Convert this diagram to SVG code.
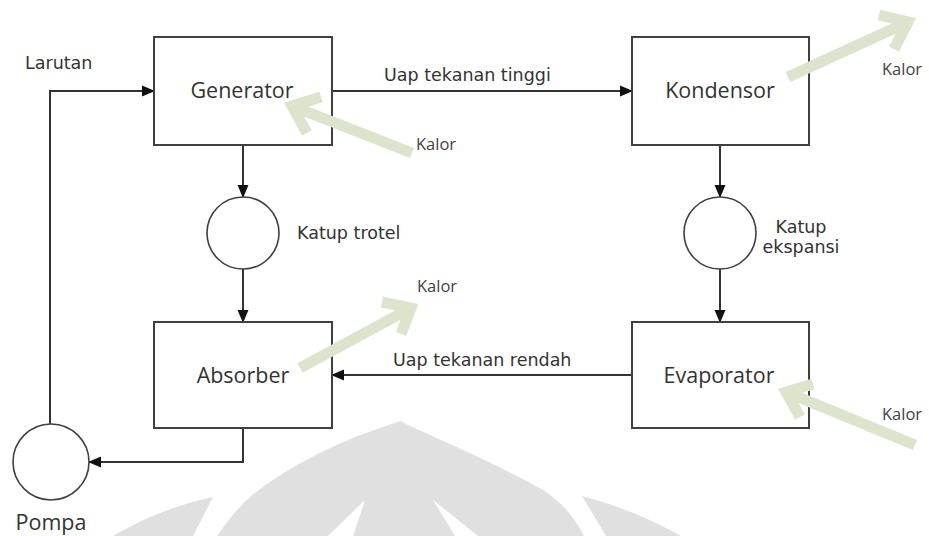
<svg xmlns="http://www.w3.org/2000/svg" width="929" height="536" viewBox="0 0 929 536">
<style>
.box{fill:#fff;stroke:#404040;stroke-width:2}
.valve{fill:#fff;stroke:#404040;stroke-width:1.6}
.lbl{font-family:"Open Sans","Noto Sans",sans-serif;font-size:21.5px;fill:#333;text-anchor:middle}
.sm{font-family:"DejaVu Sans","Liberation Sans",sans-serif;font-size:17.5px;fill:#333}
.kal{font-family:"Open Sans","Noto Sans",sans-serif;font-size:16.5px;fill:#444}
.con{fill:none;stroke:#333;stroke-width:2;marker-end:url(#ah)}
.heat{fill:none;stroke:#dde3cc;stroke-width:11;stroke-linejoin:miter;stroke-linecap:butt}
.wm{fill:#e0e0e0;stroke:none}
</style>
<defs>
<marker id="ah" markerUnits="userSpaceOnUse" markerWidth="14" markerHeight="12" refX="12" refY="6" orient="auto">
<path d="M0,0.5 L13,6 L0,11.5 z" fill="#111"/>
</marker>
</defs>
<rect width="929" height="536" fill="#fff"/>
<g id="watermark">
<path class="wm" d="M400,421 C430,436 490,460 543,490 C562,502 575,518 584,536 L217,536 C228,520 238,508 250,497 C270,480 300,462 330,448 C355,436 380,428 400,421 z"/>
<path d="M365,500 L353,536 L328,536 z" fill="#fff"/>
<path d="M433,500 L478,536 L455,536 z" fill="#fff"/>
<path class="wm" d="M213,497 L193,536 L113,536 C140,520 175,505 213,497 z"/>
<path class="wm" d="M582,496 C610,503 650,518 681,536 L606,536 z"/>
</g>
<g id="connectors">
<path class="con" d="M50,424 V91 H154"/>
<path class="con" d="M332,91 H632"/>
<path class="con" d="M243,145 V197"/>
<path class="con" d="M243,269 V322"/>
<path class="con" d="M720,145 V197"/>
<path class="con" d="M720,269 V322"/>
<path class="con" d="M632,375 H332"/>
<path class="con" d="M243,428 V462 H89"/>
</g>
<g id="generator">
<rect class="box" x="154" y="37" width="178" height="108"/>
<text class="lbl" x="242" y="98">Generator</text>
</g>
<g id="kondensor">
<rect class="box" x="632" y="37" width="177" height="108"/>
<text class="lbl" x="720" y="98">Kondensor</text>
</g>
<g id="absorber">
<rect class="box" x="154" y="322" width="178" height="106"/>
<text class="lbl" x="243" y="383">Absorber</text>
</g>
<g id="evaporator">
<rect class="box" x="632" y="322" width="177" height="106"/>
<text class="lbl" x="719" y="383">Evaporator</text>
</g>
<g id="katup-trotel">
<circle class="valve" cx="243" cy="233" r="36"/>
<text class="sm" x="297" y="239">Katup trotel</text>
</g>
<g id="katup-ekspansi">
<circle class="valve" cx="720" cy="233" r="36"/>
<text class="sm" x="801" y="233" text-anchor="middle">Katup</text>
<text class="sm" x="801" y="253" text-anchor="middle">ekspansi</text>
</g>
<g id="pompa">
<circle class="valve" cx="51" cy="462" r="38"/>
<text class="lbl" x="51" y="530">Pompa</text>
</g>
<g id="labels">
<text class="sm" x="25" y="69">Larutan</text>
<text class="sm" x="384" y="81">Uap tekanan tinggi</text>
<text class="sm" x="393" y="366">Uap tekanan rendah</text>
</g>
<g id="kalor-generator">
<path class="heat" d="M412,153 L292,106 M307,133 L292,106 L321,97"/>
<text class="kal" x="416" y="150">Kalor</text>
</g>
<g id="kalor-kondensor">
<path class="heat" d="M788,77 L908,22 M879,15 L908,22 L894,49"/>
<text class="kal" x="882" y="75">Kalor</text>
</g>
<g id="kalor-absorber">
<path class="heat" d="M300,368 L411,308 M382,302 L411,308 L401,334"/>
<text class="kal" x="417" y="292">Kalor</text>
</g>
<g id="kalor-evaporator">
<path class="heat" d="M915,445 L786,392 M800,417 L786,392 L813,384"/>
<text class="kal" x="882" y="420">Kalor</text>
</g>
</svg>
